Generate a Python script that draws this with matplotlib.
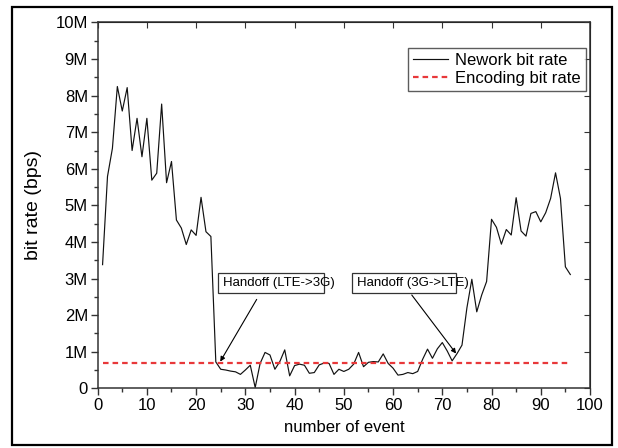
import matplotlib
matplotlib.use("Agg")
import matplotlib.pyplot as plt
from matplotlib.patches import Rectangle
from matplotlib.ticker import FuncFormatter, MultipleLocator

plt.rcParams['font.family'] = ['Liberation Sans', 'DejaVu Sans']

# network bit rate per event, in Mbps
events = list(range(1, 97))
network_mbps = [
    3.38, 5.79, 6.56, 8.25, 7.58, 8.22, 6.50, 7.38, 6.33, 7.38,
    5.69, 5.88, 7.77, 5.62, 6.20, 4.60, 4.38, 3.93, 4.33, 4.18,
    5.22, 4.28, 4.15, 0.72, 0.52, 0.50, 0.47, 0.45, 0.38, 0.50,
    0.63, 0.02, 0.68, 0.98, 0.91, 0.52, 0.73, 1.05, 0.34, 0.62,
    0.66, 0.63, 0.41, 0.43, 0.64, 0.69, 0.68, 0.38, 0.52, 0.46,
    0.52, 0.66, 0.98, 0.59, 0.71, 0.73, 0.72, 0.94, 0.68, 0.55,
    0.36, 0.38, 0.43, 0.40, 0.46, 0.79, 1.07, 0.82, 1.08, 1.25,
    1.02, 0.75, 0.95, 1.18, 2.20, 2.98, 2.09, 2.55, 2.92, 4.62,
    4.40, 3.94, 4.34, 4.19, 5.21, 4.30, 4.16, 4.78, 4.83, 4.55,
    4.80, 5.19, 5.89, 5.19, 3.32, 3.11,
]
encoding_mbps = 0.7
encoding_x = [1, 96]

network = [v * 1e6 for v in network_mbps]
encoding = [encoding_mbps * 1e6] * len(encoding_x)

fig = plt.figure(figsize=(6.18, 4.48), dpi=100)
ax = fig.add_axes([0.158, 0.1333, 0.7967, 0.8165])

ax.plot(events, network, color='#111111', lw=0.85, label='Nework bit rate')
ax.plot(encoding_x, encoding, color='#e8383a', lw=1.6,
        linestyle=(0, (2.5, 1.8)), label='Encoding bit rate')

ax.set_xlim(0, 100)
ax.set_ylim(0, 10e6)
ax.xaxis.set_major_locator(MultipleLocator(10))
ax.xaxis.set_minor_locator(MultipleLocator(5))
ax.yaxis.set_major_locator(MultipleLocator(1e6))
ax.yaxis.set_minor_locator(MultipleLocator(0.5e6))
ax.yaxis.set_major_formatter(FuncFormatter(
    lambda v, p: '0' if v == 0 else '%dM' % round(v / 1e6)))

ax.tick_params(which='major', direction='out', length=5, width=1,
               labelsize=12, color='#333333', pad=2)
ax.tick_params(which='minor', direction='out', length=3, width=1,
               color='#333333')

# inward ticks on top and right
sec_x = ax.secondary_xaxis('top')
sec_x.xaxis.set_major_locator(MultipleLocator(10))
sec_x.tick_params(direction='in', length=4, labeltop=False, color='#333333')
sec_y = ax.secondary_yaxis('right')
sec_y.yaxis.set_major_locator(MultipleLocator(1e6))
sec_y.tick_params(direction='in', length=4, labelright=False, color='#333333')
for s in ax.spines.values():
    s.set_linewidth(1.1)
    s.set_color('#333333')

ax.set_xlabel('number of event', fontsize=12, labelpad=5)
ax.set_ylabel('bit rate (bps)', fontsize=14, labelpad=10)

leg = ax.legend(loc='upper right', bbox_to_anchor=(0.991, 0.930),
                borderaxespad=0, fontsize=12, frameon=True, fancybox=False,
                handlelength=2.1, handletextpad=0.4, borderpad=0.3,
                labelspacing=0.15)
leg.get_frame().set_edgecolor('#333333')
leg.get_frame().set_linewidth(1.0)

# handoff annotations: boxes drawn separately, text slightly overflows
ax.add_patch(Rectangle((24.5, 2.61e6), 21.5, 0.53e6, fill=False,
                       edgecolor='#333333', lw=0.9, zorder=3))
ax.text(25.4, 2.88e6, 'Handoff (LTE->3G)', fontsize=9.5, va='center', ha='left')
ax.annotate('', xy=(24.9, 0.73e6), xytext=(32.3, 2.43e6),
            arrowprops=dict(arrowstyle='-|>', color='black', lw=0.8,
                            mutation_scale=7, shrinkA=0, shrinkB=0))

ax.add_patch(Rectangle((51.6, 2.61e6), 21.2, 0.53e6, fill=False,
                       edgecolor='#333333', lw=0.9, zorder=3))
ax.text(52.6, 2.88e6, 'Handoff (3G->LTE)', fontsize=9.5, va='center', ha='left')
ax.annotate('', xy=(72.8, 0.95e6), xytext=(63.8, 2.55e6),
            arrowprops=dict(arrowstyle='-|>', color='black', lw=0.8,
                            mutation_scale=7, shrinkA=0, shrinkB=0))

# outer frame around the figure
fig.patches.append(Rectangle((12 / 618, 3 / 448), 600 / 618, 438 / 448,
                             transform=fig.transFigure, fill=False,
                             edgecolor='black', lw=1.6))

fig.savefig('out.png', dpi=100)
